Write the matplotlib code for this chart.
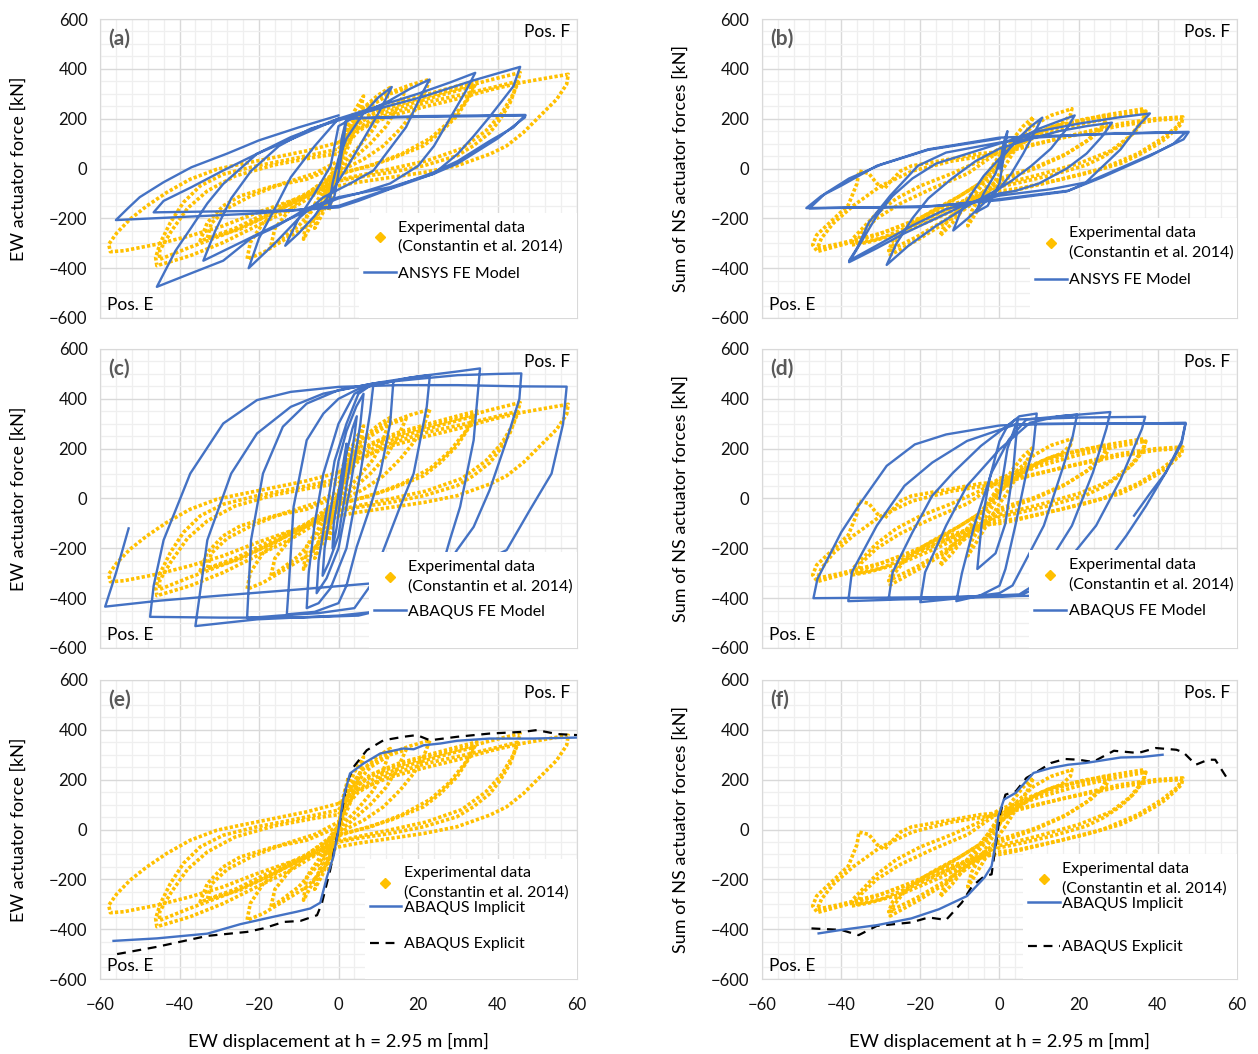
import numpy as np
import matplotlib
matplotlib.use("Agg")
import matplotlib.pyplot as plt
from matplotlib.lines import Line2D
from matplotlib.patches import Rectangle

plt.rcParams['font.family'] = ['Lato', 'DejaVu Sans']

YELLOW = '#FFC000'
BLUE = '#4472C4'

# experimental loops, EW direction (displacement mm, force kN)
exp_ew_loop1 = [(0, 104), (5, 160), (13, 210), (21, 245), (30, 280), (38, 315), (46, 345), (52, 362), (57.8, 378),
                (57.4, 338), (54.9, 278), (50.7, 211), (46.5, 144), (42.3, 91), (38.1, 58), (29.8, 11), (21.4, -16),
                (13, -36), (4.6, -56), (0, -70), (-3.8, -90), (-12, -130), (-20.5, -177), (-29, -230), (-37.3, -270),
                (-45.7, -304), (-54, -330), (-57.4, -334), (-57.8, -304), (-55.7, -257), (-52.4, -203), (-48.2, -150),
                (-43.2, -96), (-37.3, -43), (-30.6, -3), (-24.7, 17), (-16.3, 44), (-8, 71), (0, 104)]
exp_ew_loop2 = [(0, 78), (4, 170), (10, 230), (20, 280), (30, 320), (38, 355), (45.7, 385), (44.8, 332), (43.2, 265),
                (40.7, 198), (38.1, 144), (33.9, 91), (29.8, 51), (21.4, 11), (13, -16), (4.6, -36), (0, -50),
                (-3.8, -83), (-12, -163), (-20.5, -230), (-29, -297), (-37.3, -350), (-45.7, -390), (-46, -357),
                (-44.8, -297), (-42.3, -217), (-39, -136), (-34.8, -70), (-29, -23), (-20.5, 11), (-12, 37), (0, 78)]
exp_ew_loop3 = [(0, 10), (3, 150), (8, 220), (15, 265), (25, 310), (34.8, 352), (33.1, 292), (29.8, 211), (25.6, 144),
                (21.4, 91), (13, 37), (4.6, -3), (0, -25), (-8, -110), (-16.3, -177), (-24.7, -243), (-34.8, -290),
                (-33, -217), (-29, -150), (-24.7, -110), (-16.3, -70), (-8, -43), (0, 10)]
exp_ew_loop4 = [(0, 20), (2, 150), (6, 240), (12, 300), (18, 335), (23, 358), (21.4, 292), (18.9, 225), (15.5, 158),
                (11.3, 91), (6.3, 37), (1.3, -3), (0, -30), (-3.8, -163), (-8, -230), (-12, -270), (-18.9, -337),
                (-23, -364), (-22.2, -297), (-18.9, -217), (-14.7, -163), (-8.8, -110), (-3.8, -70), (0, 20)]
exp_ew_loop5 = [(0, 0), (2, 140), (6, 240), (10, 295), (13, 325), (11.3, 238), (8.8, 158), (4.6, 78), (1.3, 24),
                (0, -20), (-3, -120), (-6, -200), (-8.8, -284), (-8, -190), (-5, -120), (-2, -40), (0, 0)]
exp_ew_loop6 = [(0, 0), (2, 150), (4, 230), (6.3, 291), (5, 200), (3, 110), (1, 30), (0, -10), (-2, -100),
                (-4, -180), (-6, -240), (-5, -170), (-3, -90), (-1, -20), (0, 0)]
exp_ew_loop7 = [(0, 0), (1, 120), (2.5, 210), (2, 120), (0.5, 20), (-1, -80), (-2.5, -170), (-2, -80), (0, 0)]
exp_ew_loop8 = [(0, 60), (5, 150), (12, 215), (22, 265), (32, 300), (40, 330), (45, 350), (44, 300), (41, 220),
                (37, 150), (31, 80), (22, 30), (12, -5), (3, -35), (0, -45), (-8, -110), (-18, -190), (-28, -260),
                (-38, -320), (-45, -365), (-45, -330), (-42, -250), (-38, -160), (-33, -90), (-26, -30), (-16, 15),
                (-6, 45), (0, 60)]
exp_ew_loop9 = [(0, 30), (4, 150), (10, 215), (18, 260), (27, 300), (34, 330), (32, 270), (28, 190), (23, 120),
                (16, 60), (8, 10), (0, -20), (-8, -100), (-17, -170), (-26, -240), (-33, -280), (-32, -220),
                (-28, -160), (-22, -110), (-14, -60), (-6, -20), (0, 30)]
exp_ew_loop10 = [(0, 10), (3, 160), (8, 250), (13, 300), (17, 320), (15, 250), (12, 170), (8, 100), (3, 30), (0, -10),
                 (-5, -140), (-10, -230), (-15, -290), (-17, -310), (-16, -240), (-12, -160), (-7, -90), (-2, -30),
                 (0, 10)]
exp_ew_loops = [exp_ew_loop1, exp_ew_loop2, exp_ew_loop3, exp_ew_loop4, exp_ew_loop5, exp_ew_loop6, exp_ew_loop7,
                exp_ew_loop8, exp_ew_loop9, exp_ew_loop10]

# experimental loops, NS direction
exp_ns_loop1 = [(0, 67), (13, 113), (21.8, 147), (30.6, 180), (39.5, 200), (46.3, 207), (46, 180), (44.7, 160),
                (42, 120), (39.5, 93), (35, 53), (30.6, 20), (21.8, -20), (13, -53), (4.1, -87), (0, -100),
                (-4.7, -107), (-13.5, -153), (-22.3, -213), (-31, -267), (-40, -307), (-46, -333), (-47.2, -307),
                (-46.2, -267), (-42.6, -213), (-38.2, -147), (-36, -60), (-35.5, -10), (-33, -20), (-31, -60),
                (-29, -80), (-28, -60), (-25, -10), (-22.3, 10), (-13.5, 35), (-4.7, 60), (0, 67)]
exp_ns_loop2 = [(0, 80), (8.6, 133), (17.4, 180), (26.2, 213), (36.6, 240), (36.6, 200), (34.2, 147), (30.6, 93),
                (26.2, 47), (21.8, 13), (13, -27), (4.1, -60), (0, -73), (-8, -140), (-16, -200), (-25, -260),
                (-33, -295), (-37.3, -307), (-37, -280), (-34, -230), (-31, -180), (-26, -120), (-20, -70),
                (-12, -20), (-5, 30), (0, 80)]
exp_ns_loop3 = [(0, 40), (6, 120), (13, 165), (20, 190), (27, 200), (26, 170), (22, 110), (16, 50), (9, 0), (0, -50),
                (-5, -120), (-12, -200), (-20, -280), (-27.6, -347), (-27, -310), (-24, -250), (-19, -190),
                (-12, -130), (-5, -60), (0, 40)]
exp_ns_loop4 = [(0, 53), (4.1, 107), (8.6, 173), (13, 213), (18.3, 240), (17.9, 213), (15.6, 180), (12, 160),
                (8.6, 133), (4.1, 80), (0, 27), (-4, -60), (-8, -140), (-12, -220), (-15, -270), (-14, -230),
                (-11, -170), (-7, -100), (-3, -20), (0, 53)]
exp_ns_loop5 = [(0, 20), (3, 110), (6, 170), (8.6, 207), (6.8, 147), (4.1, 80), (1.5, 13), (0, -20), (-3, -100),
                (-6, -180), (-8, -230), (-7, -170), (-4, -90), (-1, -10), (0, 20)]
exp_ns_loop6 = [(0, 70), (10, 130), (20, 175), (30, 210), (37, 230), (36, 190), (33, 130), (28, 70), (20, 20),
                (10, -25), (0, -65), (-10, -140), (-20, -215), (-30, -280), (-36, -300), (-35, -260), (-31, -200),
                (-25, -140), (-17, -80), (-8, -20), (0, 70)]
exp_ns_loop7 = [(0, 60), (15, 120), (30, 170), (40, 195), (46, 200), (45, 170), (41, 120), (35, 60), (26, 0),
                (15, -45), (5, -80), (0, -90), (-10, -145), (-20, -205), (-30, -260), (-40, -300), (-46, -320),
                (-45, -280), (-42, -220), (-37, -150), (-30, -70), (-22, -10), (-12, 30), (0, 60)]
exp_ns_loop8 = [(0, 30), (7, 120), (14, 170), (22, 200), (28, 215), (27, 180), (23, 120), (17, 60), (9, 5), (0, -40),
                (-6, -120), (-13, -200), (-21, -275), (-28, -330), (-27, -290), (-23, -230), (-17, -170), (-10, -110),
                (-4, -50), (0, 30)]
exp_ns_loops = [exp_ns_loop1, exp_ns_loop2, exp_ns_loop3, exp_ns_loop4, exp_ns_loop5, exp_ns_loop6, exp_ns_loop7,
                exp_ns_loop8]

# ANSYS FE model
ansys_ew = [(0, 0), (0.8, 120), (2, 200), (1.2, 100), (0, -20), (-1, -110), (-2.5, -160), (-1.5, -60), (0, 40),
            (2, 120), (6, 215), (10, 285), (13.4, 327), (10, 220), (6, 110), (2, 0), (-2, -100), (-6, -190),
            (-10, -260), (-13.4, -310), (-10, -200), (-6, -100), (-2, 10),
            (0, 170), (5, 215), (12, 265), (18, 320), (22.9, 357), (21, 300), (17, 166), (12, 60), (8.8, -8),
            (3, -60), (-3.8, -115), (-10, -200), (-16, -300), (-22.6, -400), (-20, -280), (-16, -160), (-12, -35),
            (-6, 90),
            (0, 200), (10, 250), (20, 300), (28, 345), (34.4, 384), (32, 310), (28, 200), (24, 90), (20, 10),
            (13, -60), (5, -100), (0, -120), (-8, -170), (-16, -230), (-25, -300), (-34, -370), (-31, -250),
            (-27, -120), (-22, -10), (-15, 90), (-7, 160),
            (0, 193), (10, 240), (21, 287), (34, 354), (45.7, 408), (44, 330), (38, 207), (34, 130), (30, 59),
            (24, -21), (13, -75), (0, -115), (-8, -160), (-16, -236), (-22, -280), (-29, -370), (-37, -420),
            (-45.7, -475), (-41, -330), (-37, -236), (-33, -140), (-29, -62), (-20.5, 59), (-12, 126),
            (0, 200), (20, 207), (35, 210), (47, 213), (46.9, 205), (44, 170), (40, 120), (35, 70), (30, 20),
            (24, -21), (13, -82), (5, -130), (0, -156), (-12, -169), (-30, -172), (-46.5, -176), (-44, -130),
            (-37, -75), (-29, -8), (-20.5, 59), (-10, 130), (0, 200), (20, 210), (47, 215), (44, 165), (38, 110),
            (30, 30), (24, -15), (13, -80), (0, -150), (-20, -180), (-40, -195), (-56, -207), (-53, -160),
            (-50, -115), (-44, -55), (-37, 5), (-28, 60), (-20, 113), (-10, 165), (0, 213)]
ansys_ns = [(0, 0), (1, 100), (2, 150), (1, 40), (0, -60), (-3, -150), (-6, -176), (-4, -100), (-1, -20), (0, 30),
            (4, 110), (8, 170), (10.8, 204), (9, 150), (6, 60), (3, -20), (0, -80), (-4, -140), (-8, -200),
            (-11.7, -249), (-10, -180), (-7, -100), (-4, -30), (0, 40),
            (5, 120), (10, 160), (15, 190), (19, 213), (17, 160), (13, 80), (8, 10), (3, -50), (0, -80),
            (-8, -150), (-16, -230), (-23, -310), (-28.5, -387), (-26, -300), (-22, -200), (-18, -120), (-12, -40),
            (-6, 30), (0, 80),
            (8, 120), (15, 150), (22, 170), (28.4, 184), (26, 130), (22, 60), (17, 0), (10, -60), (4, -90),
            (0, -100), (-8, -140), (-16, -200), (-24, -260), (-31, -320), (-38, -376), (-34, -270), (-31, -190),
            (-27, -110), (-22, -40), (-16, 20), (-8, 60), (0, 100),
            (10, 150), (20, 180), (30, 205), (38, 221), (35, 170), (30.6, 77), (21.8, -56), (13, -83), (0, -109),
            (-13.5, -163), (-22, -229), (-30, -300), (-38, -370), (-36, -320), (-33, -216), (-27.6, -109),
            (-20.6, 11), (-13.5, 64), (0, 104),
            (10, 125), (25, 138), (40, 145), (47.8, 147), (46.5, 117), (39.5, 64), (26, -29), (17.4, -89),
            (0, -123), (-15, -150), (-30, -155), (-48.8, -159), (-45, -110), (-40, -69), (-31, 11), (-18, 77),
            (0, 124), (13, 131), (30, 140), (47, 145), (44, 100), (38, 50), (26, -35), (17, -92), (0, -127),
            (-20, -155), (-40, -158), (-48, -160), (-44, -100), (-38, -40), (-30, 15), (-18, 75), (0, 120)]

# ABAQUS FE model
abaqus_ew = [(0, 0), (1, 120), (2, 220), (1.8, 150), (0.5, 0), (-0.5, -120), (-1.5, -200), (-1.2, -100), (0, 20),
             (1.5, 150), (3.5, 280), (4.6, 330), (4, 250), (2, 50), (0, -150), (-2.5, -260), (-4, -310),
             (-3.5, -200), (-2, -50), (0, 150),
             (2, 270), (4.5, 370), (6.3, 420), (5.5, 300), (3, 50), (0, -200), (-3, -320), (-5.5, -380),
             (-5, -250), (-3, -50), (-1, 150), (2, 300),
             (5, 420), (8.8, 462), (8, 350), (5.5, 100), (2, -200), (-2, -360), (-5, -420), (-8, -440),
             (-7.5, -300), (-6, -100), (-3.8, 100), (0, 300), (4, 420),
             (8, 455), (13.8, 470), (13, 302), (10.5, 100), (8, -33), (4.6, -193), (2, -350), (0, -420),
             (-6, -455), (-13, -465), (-12.5, -350), (-11.3, -33), (-8, 234), (-3.8, 341), (0, 400), (5, 440),
             (12, 465),
             (18, 485), (23, 495), (22.2, 368), (18.9, 100), (15.5, -33), (11.3, -207), (8, -350), (4, -440),
             (-5, -460), (-15, -470), (-23, -480), (-22, -167), (-19, 100), (-14, 288), (-8, 381), (0, 435),
             (10, 465),
             (20, 490), (30, 510), (35.6, 522), (34, 234), (30.6, -33), (28, -167), (25.6, -300), (21.4, -407),
             (13, -448), (0, -470), (-20.5, -485), (-36, -512), (-33, -167), (-27, 100), (-20.5, 261), (-12, 368),
             (-3.8, 421), (8.8, 462), (20, 480), (30, 495),
             (40, 500), (46, 502), (45.5, 400), (42.3, 234), (38, 33), (34, -114), (29.8, -207), (25, -330),
             (18, -420), (5, -470), (-10, -478), (-30, -478), (-47.4, -475), (-46.5, -350), (-44, -167),
             (-37.3, 100), (-29, 301), (-20.5, 395), (-12, 428), (0, 448), (15, 455), (30, 455), (46, 450),
             (57.4, 449), (56.5, 300), (53.6, 100), (48, -50), (42.3, -207), (30, -300), (15, -335), (8.8, -340),
             (-10, -365), (-30, -390), (-45, -410), (-58.7, -434), (-56, -300), (-52.8, -120)]
abaqus_ns = [(0, 0), (2, 200), (4.6, 317), (3.5, 120), (1.5, -100), (-1, -220), (-5.6, -283), (-4.5, -100),
             (-2.5, 80), (0, 230), (2, 290),
             (5, 330), (9.4, 341), (8.5, 200), (6.8, 104), (4, -109), (1.5, -283), (0, -350), (-5, -390),
             (-10.9, -412), (-9.5, -300), (-6.4, -109), (-2, 104), (2.4, 237), (6.8, 317),
             (12, 325), (19.6, 337), (18.5, 250), (15.6, 104), (11.2, -109), (6.8, -243), (3.3, -349), (0, -380),
             (-10, -400), (-20, -416), (-18.8, -296), (-13.5, -109), (-8.2, 51), (0, 197), (7.7, 304),
             (15, 330), (28, 347), (27, 280), (23.6, 104), (18.3, -109), (13, -243), (8.6, -349), (5, -385),
             (-10, -395), (-20, -400), (-28, -403), (-27, -296), (-22, -136), (-17, 11), (-11.7, 104),
             (-4.7, 211), (4, 317),
             (20, 325), (36.8, 328), (36, 280), (30.6, 77), (24.4, -109), (18.3, -229), (11, -349), (5, -390),
             (-10, -400), (-25, -405), (-38.2, -412), (-37.3, -296), (-31, -109), (-24, 51), (-17, 144),
             (-8.2, 231), (4, 297),
             (20, 300), (35, 300), (47, 300), (46, 220), (42, 104), (37, -30), (32, -150), (25, -300), (18, -370),
             (10, -390), (-10, -395), (-30, -398), (-47, -400), (-46, -323), (-40, -136), (-35.6, -29),
             (-28.5, 131), (-21.4, 217), (-13.5, 257), (0, 293), (10, 300), (25, 300), (40, 302), (47, 304),
             (46, 230), (42, 104), (38, 20), (34, -69)]

# ABAQUS implicit / explicit pushover curves
impl_ew = [(-56.6, -447), (-45.7, -437), (-33, -418), (-24.7, -380), (-16.3, -350), (-10.5, -330), (-7.1, -317),
           (-4.6, -294), (-2.9, -190), (-1.3, -110), (0, 0), (1.3, 131), (2.9, 225), (6.3, 265), (10.5, 305),
           (16.3, 325), (18.9, 322), (21.4, 338), (25.6, 345), (29.8, 356), (38, 365), (49, 365), (60, 369)]
expl_ew = [(-55.7, -500), (-45.7, -471), (-33, -427), (-23, -411), (-18.9, -397), (-13.8, -371), (-9.6, -367),
           (-5.4, -344), (-4.2, -297), (-2.1, -163), (0, 0), (2.1, 185), (3.8, 251), (7.1, 318), (11.3, 358),
           (16.3, 372), (19.7, 379), (23, 358), (29.8, 372), (38, 385), (46.5, 392), (49.9, 399), (55, 383),
           (60, 379)]
impl_ns = [(-45.7, -417), (-40, -403), (-31, -384), (-22.3, -357), (-15.3, -320), (-8.2, -267), (-3.8, -193),
           (-2, -147), (-1.1, -67), (-0.3, 53), (1.1, 120), (4.1, 147), (8.6, 227), (13, 247), (17.4, 260),
           (21.8, 267), (30.6, 289), (36, 291), (41.2, 300)]
expl_ns = [(-47.5, -397), (-40, -403), (-35.6, -424), (-31, -387), (-22.3, -373), (-17.9, -353), (-13.5, -363),
           (-9.5, -293), (-6.9, -227), (-3.8, -187), (-2, -180), (-1.1, -80), (0.2, 67), (1.5, 140), (4.1, 153),
           (6.8, 207), (10.3, 240), (13, 267), (16.5, 283), (20, 280), (23.6, 271), (28.9, 316), (35, 307),
           (39.5, 327), (44.7, 320), (46.5, 309), (49.6, 260), (52.7, 280), (54.5, 280), (58, 193)]

EXP_LABEL = "Experimental data\n(Constantin et al. 2014)"


def xy(pts):
    return [p[0] for p in pts], [p[1] for p in pts]


def setup_axes(ax, tag, ylabel, bottom_row):
    ax.set_xlim(-60, 60)
    ax.set_ylim(-600, 600)
    ax.set_xticks(range(-60, 61, 20))
    ax.set_yticks(range(-600, 601, 200))
    ax.set_xticks(np.arange(-60, 61, 4), minor=True)
    ax.set_yticks(np.arange(-600, 601, 50), minor=True)
    ax.grid(which='minor', color='#EFEFEF', lw=0.9)
    ax.grid(which='major', color='#D9D9D9', lw=1.0)
    ax.set_axisbelow(True)
    ax.tick_params(which='both', length=0, labelsize=12, pad=9, colors='#111111')
    for s in ax.spines.values():
        s.set_color('#D9D9D9')
    ax.set_ylabel(ylabel, fontsize=13, labelpad=16)
    if bottom_row:
        ax.tick_params(axis='x', pad=13)
        ax.set_xlabel("EW displacement at h = 2.95 m [mm]", fontsize=13.3, labelpad=14)
    else:
        ax.tick_params(axis='x', labelbottom=False)
    ax.text(0.017, 0.935, tag, transform=ax.transAxes, fontsize=15, fontweight='bold',
            color='#595959', va='center')
    ax.text(0.985, 0.955, "Pos. F", transform=ax.transAxes, fontsize=12.5, ha='right', va='center')
    ax.text(0.015, 0.045, "Pos. E", transform=ax.transAxes, fontsize=12.5, ha='left', va='center')


def draw_exp(ax, loops):
    for loop in loops:
        xs, ys = xy(loop)
        ax.plot(xs, ys, color=YELLOW, lw=2.6, ls=(0, (0.9, 0.6)))


def make_legend(ax, handles, labels, loc, anchor, spacing):
    leg = ax.legend(handles, labels, loc=loc, bbox_to_anchor=anchor,
                    fontsize=11.5, frameon=False, borderaxespad=0, borderpad=0.3,
                    handlelength=2.0, handletextpad=0.15, labelspacing=spacing)
    leg.set_zorder(5)
    return leg


def add_legend(ax, box_x, box_top, handles, labels, spacing, extra=None):
    ax.add_patch(Rectangle((box_x, 0), 1 - box_x, box_top, transform=ax.transAxes,
                           facecolor='white', edgecolor='none', zorder=4))
    leg = make_legend(ax, handles, labels, 'upper left', (box_x, box_top - 0.01), spacing)
    leg.get_texts()[0].set_linespacing(1.45)
    if extra is not None:
        ax.add_artist(leg)
        make_legend(ax, [extra[0]], [extra[1]], 'center left', (box_x, extra[2]), spacing)


def main():
    fig = plt.figure(figsize=(12.58, 10.54), dpi=100)
    W, H = 1258, 1054
    lefts = [100, 762]
    widths = [477, 475]
    tops = [19, 349, 680]
    tags = [["(a)", "(b)"], ["(c)", "(d)"], ["(e)", "(f)"]]
    ylabels = ["EW actuator force [kN]", "Sum of NS actuator forces [kN]"]
    exp_data = [exp_ew_loops, exp_ns_loops]
    models = [[ansys_ew, ansys_ns], [abaqus_ew, abaqus_ns]]
    model_names = ["ANSYS FE Model", "ABAQUS FE Model"]
    implicit = [impl_ew, impl_ns]
    explicit = [expl_ew, expl_ns]
    # white legend area (left edge, top) in axes fractions
    box_x = [[0.543, 0.564], [0.564, 0.563], [0.555, 0.55]]
    box_top = [[0.352, 0.334], [0.32, 0.327], [0.403, 0.417]]
    spacing = [[0.8, 0.85], [0.7, 0.8]]
    explicit_y = [0.117, 0.107]

    exp_handle = Line2D([], [], color=YELLOW, marker='D', ls='none', markersize=5)
    line_handle = Line2D([], [], color=BLUE, lw=1.8)
    dash_handle = Line2D([], [], color='black', lw=1.6, ls=(0, (4, 3)))

    for r in range(3):
        for c in range(2):
            ax = fig.add_axes([lefts[c] / W, 1 - (tops[r] + 299) / H, widths[c] / W, 299 / H])
            setup_axes(ax, tags[r][c], ylabels[c], r == 2)
            draw_exp(ax, exp_data[c])
            if r < 2:
                xs, ys = xy(models[r][c])
                ax.plot(xs, ys, color=BLUE, lw=1.7)
                add_legend(ax, box_x[r][c], box_top[r][c], [exp_handle, line_handle],
                           [EXP_LABEL, model_names[r]], spacing[r][c])
            else:
                xs, ys = xy(explicit[c])
                ax.plot(xs, ys, color='black', lw=1.6, ls=(0, (4, 3)))
                xs, ys = xy(implicit[c])
                ax.plot(xs, ys, color=BLUE, lw=1.7)
                add_legend(ax, box_x[r][c], box_top[r][c], [exp_handle, line_handle],
                           [EXP_LABEL, "ABAQUS Implicit"], 0.05,
                           extra=(dash_handle, "ABAQUS Explicit", explicit_y[c]))

    fig.savefig("out.png", dpi=100)


if __name__ == "__main__":
    main()
